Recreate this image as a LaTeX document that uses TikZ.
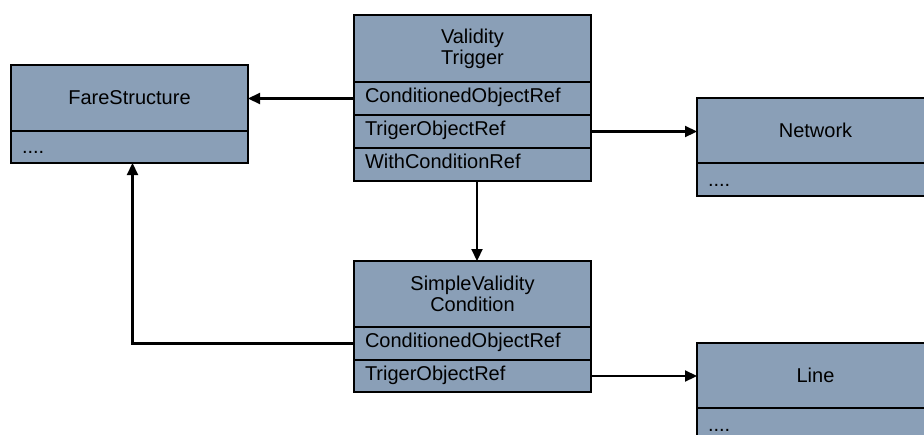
\documentclass[tikz,border=0pt]{standalone}
\usepackage{fontspec}
\setmainfont{Liberation Sans}
\usepackage{tikz}
\usetikzlibrary{arrows.meta,positioning}
\definecolor{umlfill}{RGB}{138,159,183}
\tikzstyle{head}=[draw=black,fill=umlfill,line width=2pt,outer sep=0pt,inner xsep=11pt,inner ysep=0pt,text width=215pt,align=center,font=\fontsize{20}{21}\selectfont]
\tikzstyle{field}=[head,align=left,minimum height=33pt]
\tikzstyle{dots}=[field,text height=15pt,text depth=2pt]
\tikzstyle{arrow}=[-{Triangle[length=12pt,width=11pt]},draw=black,line width=2.2pt]

\begin{document}
\begin{tikzpicture}[x=1pt,y=1pt]
  \useasboundingbox (0,0) rectangle (924,-434);
  % FareStructure
  \node [style=head,anchor=north west,minimum height=66pt] (fs0) at (11,-65) {FareStructure};
  \node [style=dots,minimum height=32pt,below=0pt of fs0] (fs1) {....};
  % ValidityTrigger
  \node [style=head,anchor=north west,minimum height=67pt] (vt0) at (354,-15) {Validity\\Trigger};
  \node [style=field,below=0pt of vt0] (vt1) {\strut ConditionedObjectRef};
  \node [style=field,below=0pt of vt1] (vt2) {\strut TrigerObjectRef};
  \node [style=field,below=0pt of vt2] (vt3) {\strut WithConditionRef};
  % Network
  \node [style=head,anchor=north west,minimum height=65pt] (nw0) at (697,-98) {Network};
  \node [style=dots,below=0pt of nw0] (nw1) {....};
  % SimpleValidityCondition
  \node [style=head,anchor=north west,minimum height=66pt] (svc0) at (354,-261) {SimpleValidity\\Condition};
  \node [style=field,below=0pt of svc0] (svc1) {\strut ConditionedObjectRef};
  \node [style=field,minimum height=32pt,below=0pt of svc1] (svc2) {\strut TrigerObjectRef};
  % Line
  \node [style=head,anchor=north west,minimum height=65pt] (ln0) at (697,-343) {Line};
  \node [style=dots,below=0pt of ln0] (ln1) {....};
  % connectors
  \draw [style=arrow] (vt1.west) to (vt1.west -| fs0.east);
  \draw [style=arrow] (vt2.east) to (vt2.east -| nw0.west);
  \draw [style=arrow] ([xshift=4.5pt]vt3.south) to ([xshift=4.5pt]svc0.north);
  \draw [style=arrow] (svc1.west) -| ([xshift=3pt]fs1.south);
  \draw [style=arrow] (svc2.east) to (svc2.east -| ln0.west);
\end{tikzpicture}
\end{document}
